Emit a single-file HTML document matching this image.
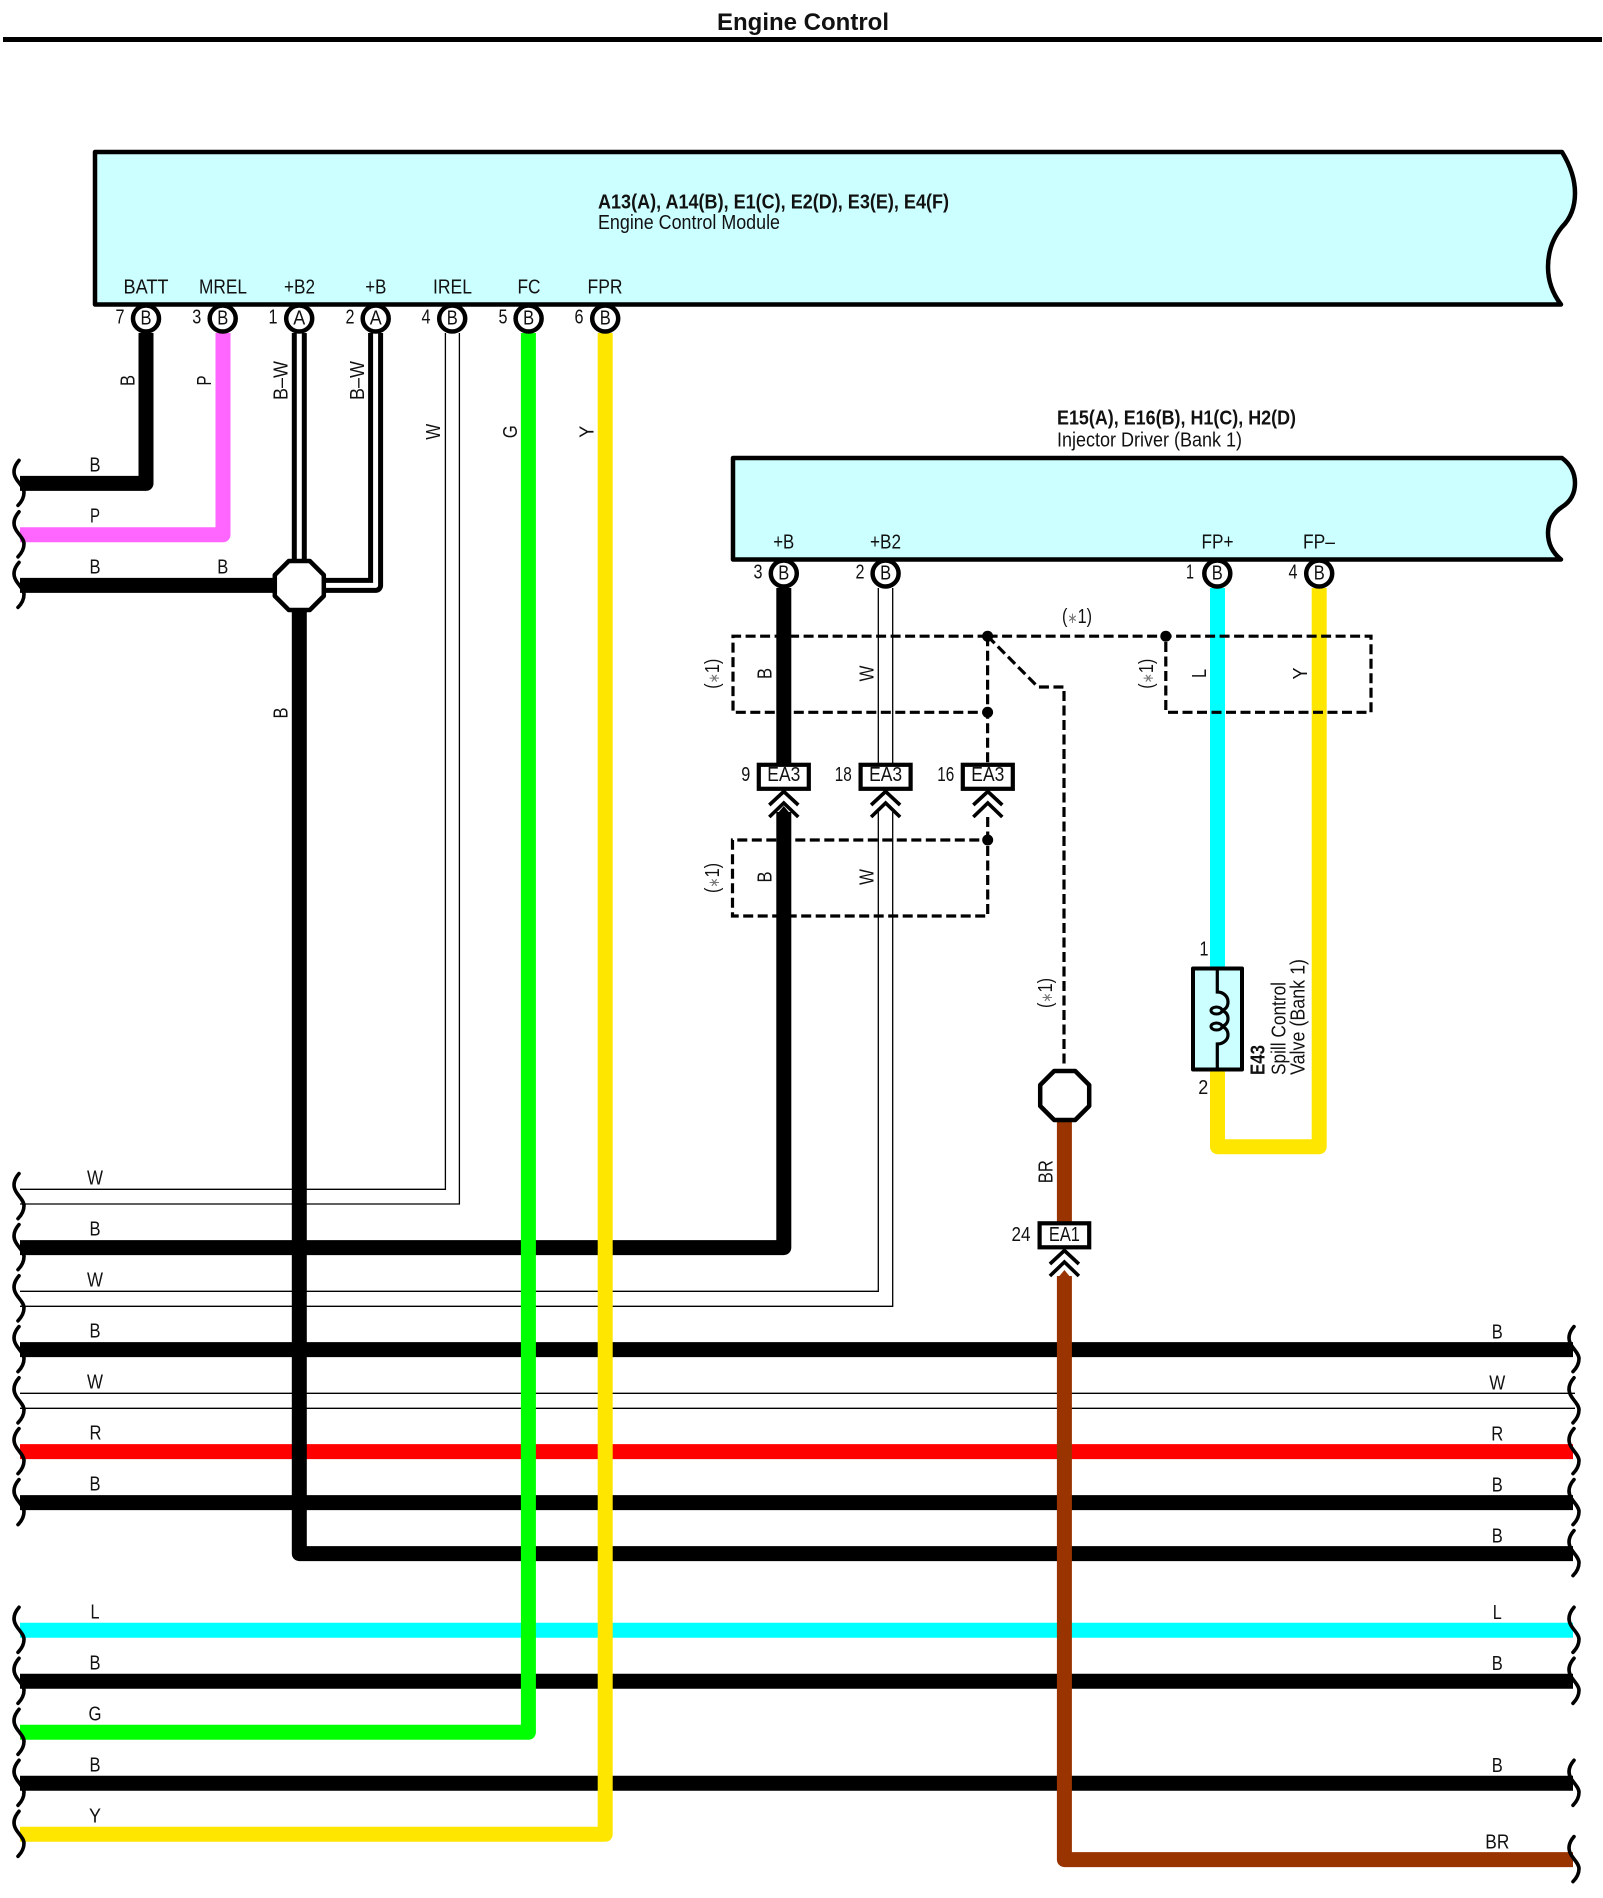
<!DOCTYPE html>
<html><head><meta charset="utf-8"><title>Engine Control</title>
<style>
html,body{margin:0;padding:0;background:#fff}
svg{display:block}
text{font-family:"Liberation Sans",Arial,sans-serif;font-size:20px;fill:#111;text-anchor:middle}
.s{text-anchor:start}
.b{font-weight:bold}
.box{fill:#ccffff;stroke:#000;stroke-width:4.5;stroke-linejoin:round}
.w{fill:none;stroke-width:15;stroke-linejoin:round}
.th{fill:none;stroke:#000;stroke-width:1.3}
.d{fill:none;stroke:#000;stroke-width:3.2;stroke-dasharray:10 4.5}
.pin{fill:#fff;stroke:#000;stroke-width:4.5}
.oct{fill:#fff;stroke:#000;stroke-width:4.5;stroke-linejoin:round}
.con{fill:#fff;stroke:#000;stroke-width:4.2}
.chev{fill:none;stroke:#000;stroke-width:3.6}
.wave{fill:none;stroke:#000;stroke-width:3.6;stroke-linecap:round}
.st{fill:#777;font-size:15px}
</style></head>
<body>
<svg xmlns="http://www.w3.org/2000/svg" width="1603" height="1898" viewBox="0 0 1603 1898">
<defs>
<path id="wv" class="wave" d="M19,-23 C13,-16 13,-10 16,-5 C18,-1 24,4 24,9 C24,14 22,18 18,22"/>
<path id="ch" class="chev" d="M-14.5,13 L0,-0.5 L14.5,13 M-14.5,25 L0,11 L14.5,25"/>
</defs>

<!-- title -->
<text x="803" y="30" class="b" style="font-size:24px" textLength="172" lengthAdjust="spacingAndGlyphs">Engine Control</text>
<rect x="3" y="37" width="1599" height="5" fill="#000"/>

<!-- module boxes -->
<path class="box" d="M95,152 H1562 C1570,165 1575,178 1575,193 C1575,208 1570,219 1562,227 C1553,238 1548,252 1548,267 C1548,282 1553,294 1561,304.5 H95 Z"/>
<path class="box" d="M733,458 H1562 C1570,464 1575,472 1575,483 C1575,494 1570,502 1562,507 C1553,513 1548,522 1548,533 C1548,545 1553,553 1561,559.5 H733 Z"/>

<g transform="translate(0,-1)">
<text x="598" y="209.5" class="s b" textLength="351" lengthAdjust="spacingAndGlyphs">A13(A), A14(B), E1(C), E2(D), E3(E), E4(F)</text>
<text x="598" y="230" class="s" textLength="182" lengthAdjust="spacingAndGlyphs">Engine Control Module</text>
</g>
<text x="1057" y="424.5" class="s b" textLength="239" lengthAdjust="spacingAndGlyphs">E15(A), E16(B), H1(C), H2(D)</text>
<text x="1057" y="446.5" class="s" textLength="185" lengthAdjust="spacingAndGlyphs">Injector Driver (Bank 1)</text>

<!-- horizontal wires -->
<g class="w">
<path class="w" stroke="#000" d="M20,1349.6 H1573"/>
<path class="w" stroke="#f00" d="M20,1451.6 H1573"/>
<path class="w" stroke="#000" d="M20,1502.6 H1573"/>
<path class="w" stroke="#0ff" d="M20,1630.3 H1573"/>
<path class="w" stroke="#000" d="M20,1681.3 H1573"/>
<path class="w" stroke="#000" d="M20,1783.3 H1573"/>
<path class="w" stroke="#000" d="M20,1247.6 H783.8 V812"/>
<path class="w" stroke="#000" d="M783.8,588 V763"/>
</g>
<!-- thin white wires -->
<path class="th" d="M20,1189.3 H445.4 V333"/>
<path class="th" d="M20,1204 H459.4 V333"/>
<path class="th" d="M20,1291.3 H878.3 V812"/>
<path class="th" d="M20,1306.3 H892.7 V812"/>
<path class="th" d="M878.3,588 V763 M892.7,588 V763"/>
<path class="th" d="M20,1393.3 H1575"/>
<path class="th" d="M20,1408.3 H1575"/>

<!-- upper left wires -->
<path class="w" stroke="#000" d="M146,333 V483.4 H20"/>
<path class="w" stroke="#f6f" d="M223,333 V534.8 H20"/>
<path class="w" stroke="#000" d="M20,585.4 H280"/>
<path class="w" stroke="#000" d="M299.3,333 V560"/>
<path fill="none" stroke="#fff" stroke-width="5" d="M299.3,333 V560"/>
<path class="w" stroke="#000" d="M375.6,333 V585.4 H320"/>
<path fill="none" stroke="#fff" stroke-width="5" stroke-linejoin="round" d="M375.6,333 V585.4 H320"/>

<!-- verticals on top -->
<path class="w" stroke="#000" d="M299.3,610 V1553.6 H1573"/>
<path class="w" stroke="#0f0" d="M528.4,333 V1732.3 H20"/>
<path class="w" stroke="#ffe600" d="M605.2,333 V1834.3 H20"/>
<path class="w" stroke="#930" d="M1064.4,1120 V1222"/>
<path class="w" stroke="#930" d="M1064.4,1276 V1859.6 H1573"/>
<path class="w" stroke="#0ff" d="M1217.5,588 V968"/>
<path class="w" stroke="#ffe600" d="M1319.2,588 V1146.7 H1217.5 V1070"/>

<!-- pointed wire tips under second chevrons -->
<path fill="#000" d="M776.3,815 L783.8,806 L791.3,815 Z"/>
<path fill="#930" d="M1056.9,1279 L1064.4,1270 L1071.9,1279 Z"/>

<!-- wave ends -->
<g>
<use href="#wv" y="483.4"/><use href="#wv" y="534.8"/><use href="#wv" y="585.4"/>
<use href="#wv" y="1196.6"/><use href="#wv" y="1247.6"/><use href="#wv" y="1298.8"/><use href="#wv" y="1349.6"/><use href="#wv" y="1400.8"/><use href="#wv" y="1451.6"/><use href="#wv" y="1502.6"/>
<use href="#wv" y="1630.3"/><use href="#wv" y="1681.3"/><use href="#wv" y="1732.3"/><use href="#wv" y="1783.3"/><use href="#wv" y="1834.3"/>
<g transform="translate(1555,0)">
<use href="#wv" y="1349.6"/><use href="#wv" y="1400.8"/><use href="#wv" y="1451.6"/><use href="#wv" y="1502.6"/><use href="#wv" y="1553.6"/>
<use href="#wv" y="1630.3"/><use href="#wv" y="1681.3"/><use href="#wv" y="1783.3"/><use href="#wv" y="1859.6"/>
</g>
</g>

<!-- dashed -->
<path class="d" d="M987.6,636.2 H733 V712.3 H987.6"/>
<path class="d" d="M987.6,636.2 V763"/>
<path class="d" d="M987.6,636.2 H1371 V712.3 H1165.8 V636.2"/>
<path class="d" d="M987.6,636.2 L1038,687 H1064 V1068"/>
<path class="d" d="M987.7,817 V916 H732.5 V840 H987.7"/>
<circle cx="987.6" cy="636.2" r="5.5"/><circle cx="987.6" cy="712.3" r="5.5"/><circle cx="1165.8" cy="636.2" r="5.5"/><circle cx="987.7" cy="840" r="5.5"/>

<!-- octagons -->
<polygon class="oct" points="288.8,561 309.8,561 323.8,575 323.8,596 309.8,610 288.8,610 274.8,596 274.8,575"/>
<polygon class="oct" points="1054.2,1071 1075.2,1071 1089.2,1085 1089.2,1106 1075.2,1120 1054.2,1120 1040.2,1106 1040.2,1085"/>

<!-- connectors -->
<rect class="con" x="758.8" y="764.8" width="50" height="24"/>
<rect class="con" x="860.6" y="764.8" width="50" height="24"/>
<rect class="con" x="962.8" y="764.8" width="50" height="24"/>
<rect class="con" x="1039.6" y="1223.3" width="49.6" height="24"/>
<use href="#ch" x="783.8" y="792"/><use href="#ch" x="885.6" y="792"/><use href="#ch" x="987.8" y="792"/><use href="#ch" x="1064.4" y="1251"/>
<text x="783.8" y="781" textLength="33" lengthAdjust="spacingAndGlyphs">EA3</text>
<text x="885.6" y="781" textLength="33" lengthAdjust="spacingAndGlyphs">EA3</text>
<text x="987.8" y="781" textLength="33" lengthAdjust="spacingAndGlyphs">EA3</text>
<text x="1064.4" y="1241" textLength="31" lengthAdjust="spacingAndGlyphs">EA1</text>
<text x="745.7" y="781" textLength="9" lengthAdjust="spacingAndGlyphs">9</text>
<text x="843.3" y="781" textLength="17" lengthAdjust="spacingAndGlyphs">18</text>
<text x="945.7" y="781" textLength="17" lengthAdjust="spacingAndGlyphs">16</text>
<text x="1021" y="1241" textLength="19" lengthAdjust="spacingAndGlyphs">24</text>

<!-- solenoid -->
<rect x="1193" y="968.5" width="49" height="101" fill="#ccffff" stroke="#000" stroke-width="4" stroke-linejoin="round"/>
<path fill="none" stroke="#000" stroke-width="3.2" d="M1217.3,968 V992 C1223,992 1228,996 1228,1002 C1228,1007 1225,1010 1221,1010.5 C1225,1011 1228,1014 1228,1018.5 C1228,1023 1225,1026 1221,1026.5 C1225,1027 1228,1030 1228,1035 C1228,1040 1223,1044 1217.3,1044 V1070"/>
<ellipse cx="1216.5" cy="1010.5" rx="5.5" ry="3.5" fill="none" stroke="#000" stroke-width="3"/>
<ellipse cx="1216.5" cy="1026.5" rx="5.5" ry="3.5" fill="none" stroke="#000" stroke-width="3"/>
<text x="1204" y="955.7" textLength="9" lengthAdjust="spacingAndGlyphs">1</text>
<text x="1203.3" y="1094" textLength="10" lengthAdjust="spacingAndGlyphs">2</text>
<text class="s b" x="1264.5" y="1075" transform="rotate(-90 1264.5 1075)" textLength="30" lengthAdjust="spacingAndGlyphs">E43</text>
<text class="s" x="1285.5" y="1075" transform="rotate(-90 1285.5 1075)" textLength="93" lengthAdjust="spacingAndGlyphs">Spill Control</text>
<text class="s" x="1304.5" y="1075" transform="rotate(-90 1304.5 1075)" textLength="116" lengthAdjust="spacingAndGlyphs">Valve (Bank 1)</text>

<!-- pins ECM -->
<circle class="pin" cx="146" cy="318.5" r="13"/><circle class="pin" cx="222.7" cy="318.5" r="13"/><circle class="pin" cx="299.2" cy="318.5" r="13"/><circle class="pin" cx="375.7" cy="318.5" r="13"/><circle class="pin" cx="452.2" cy="318.5" r="13"/><circle class="pin" cx="528.6" cy="318.5" r="13"/><circle class="pin" cx="605.2" cy="318.5" r="13"/>
<text x="146" y="324.5" textLength="11" lengthAdjust="spacingAndGlyphs">B</text>
<text x="222.7" y="324.5" textLength="11" lengthAdjust="spacingAndGlyphs">B</text>
<text x="299.2" y="324.5" textLength="12" lengthAdjust="spacingAndGlyphs">A</text>
<text x="375.7" y="324.5" textLength="12" lengthAdjust="spacingAndGlyphs">A</text>
<text x="452.2" y="324.5" textLength="11" lengthAdjust="spacingAndGlyphs">B</text>
<text x="528.6" y="324.5" textLength="11" lengthAdjust="spacingAndGlyphs">B</text>
<text x="605.2" y="324.5" textLength="11" lengthAdjust="spacingAndGlyphs">B</text>
<text x="120" y="323.5" textLength="9" lengthAdjust="spacingAndGlyphs">7</text>
<text x="196.7" y="323.5" textLength="9" lengthAdjust="spacingAndGlyphs">3</text>
<text x="273" y="323.5" textLength="9" lengthAdjust="spacingAndGlyphs">1</text>
<text x="350" y="323.5" textLength="9" lengthAdjust="spacingAndGlyphs">2</text>
<text x="426" y="323.5" textLength="9" lengthAdjust="spacingAndGlyphs">4</text>
<text x="503" y="323.5" textLength="9" lengthAdjust="spacingAndGlyphs">5</text>
<text x="579" y="323.5" textLength="9" lengthAdjust="spacingAndGlyphs">6</text>
<text x="146" y="293.5" textLength="45" lengthAdjust="spacingAndGlyphs">BATT</text>
<text x="223" y="293.5" textLength="48" lengthAdjust="spacingAndGlyphs">MREL</text>
<text x="299.5" y="293.5" textLength="31" lengthAdjust="spacingAndGlyphs">+B2</text>
<text x="375.8" y="293.5" textLength="21" lengthAdjust="spacingAndGlyphs">+B</text>
<text x="452.5" y="293.5" textLength="39" lengthAdjust="spacingAndGlyphs">IREL</text>
<text x="529" y="293.5" textLength="23" lengthAdjust="spacingAndGlyphs">FC</text>
<text x="605" y="293.5" textLength="35" lengthAdjust="spacingAndGlyphs">FPR</text>

<!-- pins injector -->
<circle class="pin" cx="783.8" cy="573.5" r="13"/><circle class="pin" cx="885.6" cy="573.5" r="13"/><circle class="pin" cx="1217.3" cy="573.5" r="13"/><circle class="pin" cx="1319.2" cy="573.5" r="13"/>
<text x="783.8" y="579.5" textLength="11" lengthAdjust="spacingAndGlyphs">B</text>
<text x="885.6" y="579.5" textLength="11" lengthAdjust="spacingAndGlyphs">B</text>
<text x="1217.3" y="579.5" textLength="11" lengthAdjust="spacingAndGlyphs">B</text>
<text x="1319.2" y="579.5" textLength="11" lengthAdjust="spacingAndGlyphs">B</text>
<text x="758" y="578.5" textLength="9" lengthAdjust="spacingAndGlyphs">3</text>
<text x="860" y="578.5" textLength="9" lengthAdjust="spacingAndGlyphs">2</text>
<text x="1190" y="578.5" textLength="8" lengthAdjust="spacingAndGlyphs">1</text>
<text x="1293" y="578.5" textLength="9" lengthAdjust="spacingAndGlyphs">4</text>
<text x="783.7" y="548.3" textLength="21" lengthAdjust="spacingAndGlyphs">+B</text>
<text x="885.5" y="548.3" textLength="31" lengthAdjust="spacingAndGlyphs">+B2</text>
<text x="1217.5" y="548.3" textLength="32" lengthAdjust="spacingAndGlyphs">FP+</text>
<text x="1319" y="548.3" textLength="32" lengthAdjust="spacingAndGlyphs">FP–</text>

<!-- left wire labels -->
<g transform="translate(0,-1)">
<text x="95" y="472.5" textLength="11" lengthAdjust="spacingAndGlyphs">B</text>
<text x="95" y="523.5" textLength="10" lengthAdjust="spacingAndGlyphs">P</text>
<text x="95" y="574.5" textLength="11" lengthAdjust="spacingAndGlyphs">B</text>
<text x="222.7" y="574.5" textLength="11" lengthAdjust="spacingAndGlyphs">B</text>
<text x="95" y="1185.5" textLength="16" lengthAdjust="spacingAndGlyphs">W</text>
<text x="95" y="1236.6" textLength="11" lengthAdjust="spacingAndGlyphs">B</text>
<text x="95" y="1287.5" textLength="16" lengthAdjust="spacingAndGlyphs">W</text>
<text x="95" y="1338.6" textLength="11" lengthAdjust="spacingAndGlyphs">B</text>
<text x="95" y="1389.5" textLength="16" lengthAdjust="spacingAndGlyphs">W</text>
<text x="95.5" y="1440.6" textLength="12" lengthAdjust="spacingAndGlyphs">R</text>
<text x="95" y="1491.6" textLength="11" lengthAdjust="spacingAndGlyphs">B</text>
<text x="95" y="1619.3" textLength="9" lengthAdjust="spacingAndGlyphs">L</text>
<text x="95" y="1670.3" textLength="11" lengthAdjust="spacingAndGlyphs">B</text>
<text x="95" y="1721.3" textLength="13" lengthAdjust="spacingAndGlyphs">G</text>
<text x="95" y="1772.3" textLength="11" lengthAdjust="spacingAndGlyphs">B</text>
<text x="95" y="1823.3" textLength="12" lengthAdjust="spacingAndGlyphs">Y</text>
</g>

<!-- right wire labels -->
<text x="1497.3" y="1338.4" textLength="11" lengthAdjust="spacingAndGlyphs">B</text>
<text x="1497.3" y="1389.5" textLength="16" lengthAdjust="spacingAndGlyphs">W</text>
<text x="1497.3" y="1440.6" textLength="12" lengthAdjust="spacingAndGlyphs">R</text>
<text x="1497.3" y="1491.6" textLength="11" lengthAdjust="spacingAndGlyphs">B</text>
<text x="1497.3" y="1542.6" textLength="11" lengthAdjust="spacingAndGlyphs">B</text>
<text x="1497.3" y="1618.8" textLength="9" lengthAdjust="spacingAndGlyphs">L</text>
<text x="1497.3" y="1669.8" textLength="11" lengthAdjust="spacingAndGlyphs">B</text>
<text x="1497.3" y="1771.8" textLength="11" lengthAdjust="spacingAndGlyphs">B</text>
<text x="1497.3" y="1848.6" textLength="24" lengthAdjust="spacingAndGlyphs">BR</text>

<!-- rotated labels -->
<text x="134.5" y="380.5" transform="rotate(-90 134.5 380.5)" textLength="11" lengthAdjust="spacingAndGlyphs">B</text>
<text x="211" y="380.5" transform="rotate(-90 211 380.5)" textLength="10" lengthAdjust="spacingAndGlyphs">P</text>
<text x="287.5" y="380.5" transform="rotate(-90 287.5 380.5)" textLength="39" lengthAdjust="spacingAndGlyphs">B–W</text>
<text x="364" y="380.5" transform="rotate(-90 364 380.5)" textLength="39" lengthAdjust="spacingAndGlyphs">B–W</text>
<text x="440" y="431.7" transform="rotate(-90 440 431.7)" textLength="16" lengthAdjust="spacingAndGlyphs">W</text>
<text x="517" y="431.7" transform="rotate(-90 517 431.7)" textLength="13" lengthAdjust="spacingAndGlyphs">G</text>
<text x="593.5" y="431.7" transform="rotate(-90 593.5 431.7)" textLength="12" lengthAdjust="spacingAndGlyphs">Y</text>
<text x="287.5" y="713" transform="rotate(-90 287.5 713)" textLength="11" lengthAdjust="spacingAndGlyphs">B</text>
<text x="1052.5" y="1171.7" transform="rotate(-90 1052.5 1171.7)" textLength="23" lengthAdjust="spacingAndGlyphs">BR</text>
<text x="771.5" y="673.5" transform="rotate(-90 771.5 673.5)" textLength="11" lengthAdjust="spacingAndGlyphs">B</text>
<text x="873.5" y="673.5" transform="rotate(-90 873.5 673.5)" textLength="16" lengthAdjust="spacingAndGlyphs">W</text>
<text x="1206" y="673.5" transform="rotate(-90 1206 673.5)" textLength="9" lengthAdjust="spacingAndGlyphs">L</text>
<text x="1307" y="673.5" transform="rotate(-90 1307 673.5)" textLength="12" lengthAdjust="spacingAndGlyphs">Y</text>
<text x="771.5" y="877" transform="rotate(-90 771.5 877)" textLength="11" lengthAdjust="spacingAndGlyphs">B</text>
<text x="873.5" y="877" transform="rotate(-90 873.5 877)" textLength="16" lengthAdjust="spacingAndGlyphs">W</text>

<!-- (*1) notes -->
<text x="1077" y="623" textLength="30" lengthAdjust="spacingAndGlyphs">(<tspan class="st">∗</tspan>1)</text>
<text x="719" y="673.7" transform="rotate(-90 719 673.7)" textLength="30" lengthAdjust="spacingAndGlyphs">(<tspan class="st">∗</tspan>1)</text>
<text x="1153" y="673.7" transform="rotate(-90 1153 673.7)" textLength="30" lengthAdjust="spacingAndGlyphs">(<tspan class="st">∗</tspan>1)</text>
<text x="719" y="878" transform="rotate(-90 719 878)" textLength="30" lengthAdjust="spacingAndGlyphs">(<tspan class="st">∗</tspan>1)</text>
<text x="1052" y="993" transform="rotate(-90 1052 993)" textLength="30" lengthAdjust="spacingAndGlyphs">(<tspan class="st">∗</tspan>1)</text>
</svg>
</body></html>
